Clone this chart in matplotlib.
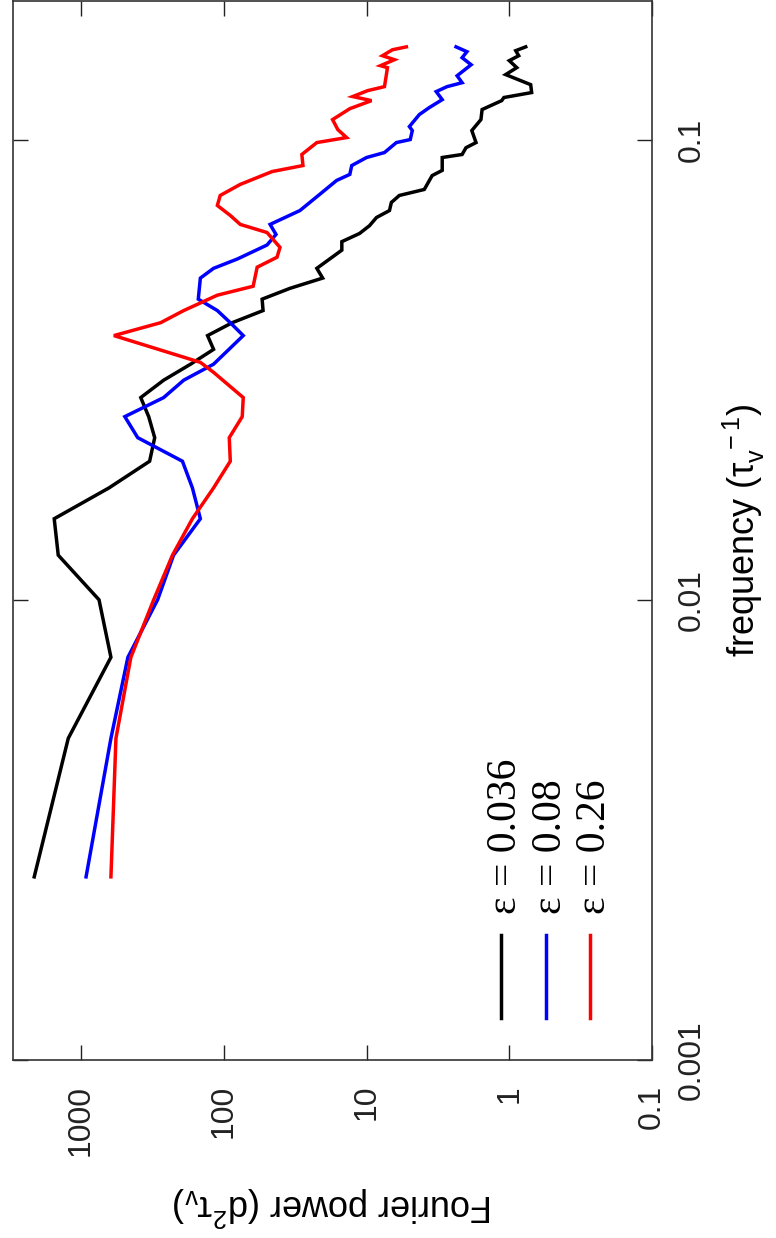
import matplotlib
matplotlib.use("Agg")
import matplotlib.pyplot as plt
from matplotlib.ticker import FixedLocator, NullLocator
from matplotlib.lines import Line2D

plt.rcParams['font.family'] = ['Liberation Sans', 'DejaVu Sans']
plt.rcParams['mathtext.fontset'] = 'custom'
plt.rcParams['mathtext.rm'] = 'Liberation Sans'
plt.rcParams['mathtext.it'] = 'Liberation Sans'
plt.rcParams['mathtext.bf'] = 'Liberation Sans:bold'

# ---------------- data (frequency in 1/tau_v, Fourier power in d^2 tau_v) ----------------
freq_eps036 = [0.0025, 0.005, 0.0075, 0.01, 0.0125, 0.015, 0.0175, 0.02, 0.0225, 0.025,
               0.0275, 0.03, 0.0325, 0.035, 0.0375, 0.04, 0.0425, 0.045, 0.0475, 0.05,
               0.0525, 0.0575, 0.06, 0.0625, 0.065, 0.0677, 0.0701, 0.073, 0.0756, 0.0779,
               0.0835, 0.0857, 0.0914, 0.0928, 0.096, 0.0985, 0.1046, 0.1105, 0.1162, 0.1215,
               0.1234, 0.1265, 0.1316, 0.1384, 0.1433, 0.1484, 0.1521, 0.156, 0.159]
power_eps036 = [2130, 1230, 618, 749, 1446, 1543, 638, 331, 305, 336,
                382, 264, 171, 118, 130, 87.3, 53.1, 53.9, 34.4, 20.3,
                22.3, 14.9, 14.9, 11.2, 9.53, 8.52, 6.91, 6.70, 5.89, 3.94,
                3.47, 2.95, 2.95, 2.14, 2.01, 1.71, 1.83, 1.58, 1.55, 1.13,
                1.09, 0.697, 0.708, 1.06, 0.886, 1.0, 0.859, 0.901, 0.767]

freq_eps08 = [0.0025, 0.005, 0.0075, 0.01, 0.0125, 0.015, 0.0175, 0.02, 0.0225, 0.025,
              0.0275, 0.03, 0.0325, 0.0375, 0.04, 0.0425, 0.045, 0.05, 0.0525, 0.055,
              0.059, 0.0622, 0.0654, 0.0701, 0.076, 0.0815, 0.084, 0.0878, 0.0914, 0.0937,
              0.0985, 0.1, 0.1046, 0.1067, 0.1133, 0.1173, 0.1221, 0.1271, 0.1303, 0.1329,
              0.1376, 0.1454, 0.1506, 0.1552, 0.159]
power_eps08 = [923, 618, 470, 291, 225, 146, 166, 195, 401, 494,
               264, 191, 118, 73.1, 90.1, 111, 151, 146, 118, 80.5,
               49.8, 43.1, 47.4, 29.3, 21.3, 16.2, 13.1, 12.7, 10.0, 7.49,
               6.18, 4.94, 4.78, 5.01, 4.27, 3.64, 2.95, 3.25, 2.73, 2.14,
               2.32, 1.85, 2.14, 1.98, 2.36]

freq_eps26 = [0.0025, 0.005, 0.0075, 0.01, 0.0125, 0.015, 0.0175, 0.02, 0.0225, 0.025,
              0.0275, 0.0312, 0.0328, 0.0375, 0.04, 0.0425, 0.0459, 0.048, 0.0528, 0.0555,
              0.0583, 0.0628, 0.0654, 0.0684, 0.0719, 0.0756, 0.0799, 0.0852, 0.0878, 0.0928,
              0.0985, 0.101, 0.1051, 0.1105, 0.1167, 0.1215, 0.124, 0.1277, 0.1303, 0.1384,
              0.1433, 0.1447, 0.1491, 0.1521, 0.1567, 0.159]
power_eps26 = [618, 570, 448, 310, 229, 166, 118, 90.1, 91.6, 74.3,
               73.1, 118, 146, 589, 277, 191, 111, 62.3, 58.4, 42.4,
               40.4, 49.8, 76.7, 90.1, 111, 106, 76.7, 45.9, 27.9, 28.4,
               22.3, 13.8, 15.9, 17.3, 13.1, 9.23, 12.5, 9.84, 7.49, 7.26,
               7.14, 7.99, 6.38, 7.74, 6.59, 5.26]

series_labels = [r"ε = 0.036", r"ε = 0.08", r"ε = 0.26"]
series_colors = ["#000000", "#0000ff", "#ff0000"]

power_ticks = [1000, 100, 10, 1, 0.1]
power_ticklabels = ["1000", "100", "10", "1", "0.1"]
freq_ticks = [0.001, 0.01, 0.1]
freq_ticklabels = ["0.001", "0.01", "0.1"]

# ---------------- figure (chart drawn rotated: power horizontal, frequency vertical) ----------------
W, H = 776, 1238
fig = plt.figure(figsize=(W / 100, H / 100), dpi=100)
x0, x1, y0, y1 = 13, 652, 1, 1060
ax = fig.add_axes([x0 / W, 1 - y1 / H, (x1 - x0) / W, (y1 - y0) / H])

ax.set_xscale('log')
ax.set_yscale('log')

series = [(power_eps036, freq_eps036), (power_eps08, freq_eps08), (power_eps26, freq_eps26)]
for (p, f), c in zip(series, series_colors):
    ax.plot(p, f, color=c, lw=2.5, solid_joinstyle='miter')

ax.set_xlim(3000, 0.1)
ax.set_ylim(0.001, 0.2)

ax.xaxis.set_major_locator(FixedLocator(power_ticks))
ax.xaxis.set_minor_locator(NullLocator())
ax.yaxis.set_major_locator(FixedLocator(freq_ticks))
ax.yaxis.set_minor_locator(NullLocator())
ax.set_xticklabels(power_ticklabels, rotation=90)
ax.set_yticklabels(freq_ticklabels, rotation=90, va='center')

ax.tick_params(which='both', direction='in', length=11, width=1.0,
               top=True, bottom=True, left=True, right=True,
               labelleft=False, labelright=True, labeltop=False, labelbottom=True,
               labelsize=23, pad=18, colors='#222222')
for s in ax.spines.values():
    s.set_linewidth(1.2)
    s.set_color('#333333')

ax.yaxis.set_label_position('right')
ax.set_ylabel(r"frequency ($\tau_{\mathrm{v}}^{\ -1}$)", fontsize=26, rotation=90, labelpad=10)
ax.set_xlabel(r"Fourier power (d$^2\tau_{\mathrm{v}}$)", fontsize=26, rotation=180, labelpad=20)

# ---------------- legend (rotated, drawn by hand) ----------------
leg_x = [0.764, 0.834, 0.903]
for lx, lab, c in zip(leg_x, series_labels, series_colors):
    ax.add_line(Line2D([lx, lx], [0.040, 0.118], color=c, lw=2.5, transform=ax.transAxes))
    ax.text(lx, 0.138, lab, transform=ax.transAxes, rotation=90, rotation_mode='anchor',
            ha='left', va='center_baseline', fontsize=30,
            family=['Liberation Serif', 'DejaVu Serif'])

fig.savefig("out.png", dpi=100)
